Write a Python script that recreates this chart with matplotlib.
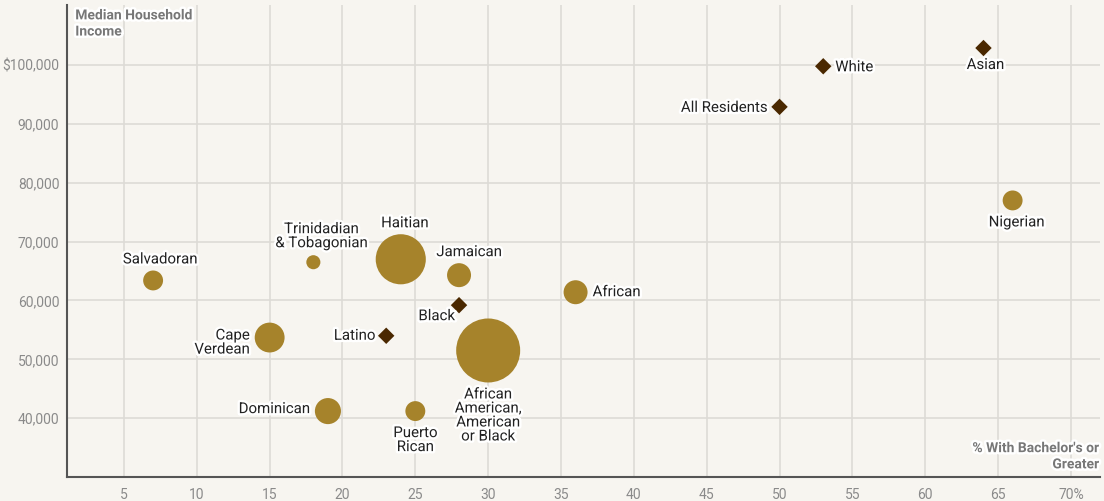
import matplotlib.pyplot as plt
import matplotlib.patheffects as pe
import numpy as np

plt.rcParams['font.family'] = ['Roboto', 'DejaVu Sans']

# groups with population bubbles
grupos = ['Salvadoran', 'Trinidadian\n& Tobagonian', 'Haitian', 'Jamaican', 'Cape\nVerdean',
          'African', 'African\nAmerican,\nAmerican\nor Black', 'Dominican', 'Puerto\nRican', 'Nigerian']
bachiller = [7, 18, 24, 28, 15, 36, 30, 19, 25, 66]
ingreso = [63400, 66500, 67000, 64300, 53700, 61400, 51500, 41200, 41200, 77000]
poblacion = [6000, 3000, 38000, 8700, 13500, 8700, 62000, 10300, 6000, 6000]

# reference groups (diamonds)
refs = ['All Residents', 'White', 'Asian', 'Black', 'Latino']
ref_bach = [50, 53, 64, 28, 23]
ref_ing = [92900, 99800, 102900, 59200, 54000]

xticks = [5, 10, 15, 20, 25, 30, 35, 40, 45, 50, 55, 60, 65, 70]
xlabels = ['5', '10', '15', '20', '25', '30', '35', '40', '45', '50', '55', '60', '65', '70%']
yticks = [40000, 50000, 60000, 70000, 80000, 90000, 100000]
ylabels = ['40,000', '50,000', '60,000', '70,000', '80,000', '90,000', '$100,000']

fondo = '#f7f5f0'
oro = '#a6832b'
cafe = '#4a2800'

fig = plt.figure(figsize=(11.04, 5.01), dpi=100, facecolor=fondo)
ax = fig.add_axes([0.0607, 0.0479, 0.9357, 0.942], facecolor=fondo)

# radius in px ~ sqrt(pop)
r_px = 32 * np.sqrt(np.array(poblacion) / 62000)
s = (2 * r_px * 0.72) ** 2
ax.scatter(bachiller, ingreso, s=s, color=oro, edgecolor='none', zorder=3)
ax.scatter(ref_bach, ref_ing, s=70, marker='D', color=cafe, edgecolor='none', zorder=4)

ax.set_xlim(1.09, 72.0)
ax.set_ylim(30000, 110200)
ax.set_xticks(xticks)
ax.set_xticklabels(xlabels)
ax.set_yticks(yticks)
ax.set_yticklabels(ylabels)
ax.tick_params(length=0, colors='#8a8a8a', labelsize=10)
ax.tick_params(axis='y', pad=5.5)
ax.tick_params(axis='x', pad=8)
ax.grid(True, color='#dddbd6', linewidth=1.2, zorder=0)
for lado in ['top', 'right']:
    ax.spines[lado].set_visible(False)
for lado in ['left', 'bottom']:
    ax.spines[lado].set_color('#555555')
    ax.spines[lado].set_linewidth(1.5)

halo = [pe.withStroke(linewidth=3.5, foreground='white')]

def etiqueta(txt, x, y, dx, dy, ha, va):
    ax.annotate(txt, (x, y), xytext=(dx, -dy), textcoords='offset pixels',
                ha=ha, va=va, fontsize=10.8, color='#222222', linespacing=1.0,
                path_effects=halo, zorder=5)

# bubble labels (offsets in px)
posiciones = {
    'Salvadoran': (7, -14, 'center', 'bottom'),
    'Trinidadian\n& Tobagonian': (8, -12, 'center', 'bottom'),
    'Haitian': (4, -29, 'center', 'bottom'),
    'Jamaican': (10, -16, 'center', 'bottom'),
    'Cape\nVerdean': (-20, 5, 'right', 'center'),
    'African': (17, 0, 'left', 'center'),
    'African\nAmerican,\nAmerican\nor Black': (0, 37, 'center', 'top'),
    'Dominican': (-18, -2, 'right', 'center'),
    'Puerto\nRican': (0, 15, 'center', 'top'),
    'Nigerian': (4, 15, 'center', 'top'),
}
for g, x, y in zip(grupos, bachiller, ingreso):
    dx, dy, ha, va = posiciones[g]
    etiqueta(g, x, y, dx, dy, ha, va)

pos_refs = {
    'All Residents': (-12, 1, 'right', 'center'),
    'White': (12, 1, 'left', 'center'),
    'Asian': (2, 10, 'center', 'top'),
    'Black': (-4, 4, 'right', 'top'),
    'Latino': (-11, 0, 'right', 'center'),
}
for g, x, y in zip(refs, ref_bach, ref_ing):
    dx, dy, ha, va = pos_refs[g]
    etiqueta(g, x, y, dx, dy, ha, va)

ax.text(0.008, 0.993, 'Median Household\nIncome', transform=ax.transAxes, ha='left', va='top',
        fontsize=10, fontweight='bold', color='#777777', linespacing=1.2,
        path_effects=halo, zorder=6)
ax.text(0.999, 0.012, "% With Bachelor's or\nGreater", transform=ax.transAxes, ha='right',
        va='bottom', multialignment='right', fontsize=10, fontweight='bold', color='#777777',
        linespacing=1.2, path_effects=halo, zorder=6)

fig.savefig('out.png', dpi=100, facecolor=fondo)
